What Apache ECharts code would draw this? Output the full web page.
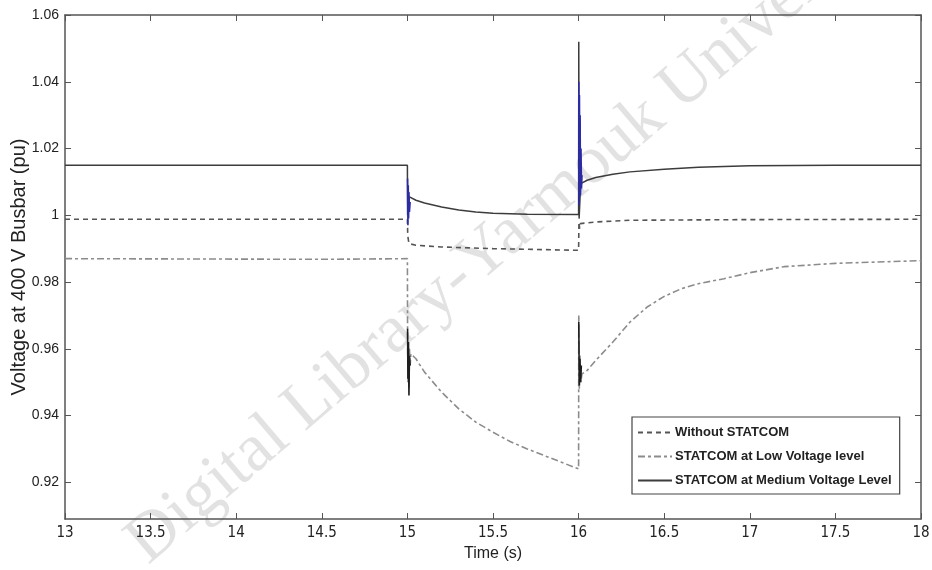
<!DOCTYPE html>
<html>
<head>
<meta charset="utf-8">
<script src="https://cdn.jsdelivr.net/npm/echarts@6/dist/echarts.min.js"></script>
<style>
  html, body { margin: 0; padding: 0; background: #fff; }
  #chart { width: 932px; height: 570px; }
</style>
</head>
<body>
<div id="chart"></div>
<script>
// tick labels
const xTicks = [13, 13.5, 14, 14.5, 15, 15.5, 16, 16.5, 17, 17.5, 18];
const yTicks = [0.92, 0.94, 0.96, 0.98, 1, 1.02, 1.04, 1.06];

const seriesNames = ["Without STATCOM", "STATCOM at Low Voltage level", "STATCOM at Medium Voltage Level"];

// [time (s), voltage (pu)]
const withoutStatcom = [
  [13, 0.9988], [15, 0.9988], [15.002, 0.994], [15.006, 0.9925], [15.01, 0.9915],
  [15.05, 0.991], [15.2, 0.9905], [15.5, 0.99], [15.8, 0.9897], [16, 0.9895],
  [16.002, 0.998], [16.006, 0.996], [16.01, 0.9975], [16.1, 0.998], [16.3, 0.9985],
  [17, 0.9987], [18, 0.9988]
];

const lowVoltage = [
  [13, 0.987], [14.5, 0.9868], [15, 0.987], [15.001, 0.965], [15.003, 0.95],
  [15.006, 0.962], [15.009, 0.948], [15.012, 0.96], [15.016, 0.955], [15.02, 0.9585],
  [15.05, 0.957], [15.1, 0.953], [15.2, 0.947], [15.3, 0.942], [15.4, 0.938],
  [15.5, 0.935], [15.6, 0.9322], [15.7, 0.93], [15.8, 0.928], [15.9, 0.926],
  [16, 0.924], [16.001, 0.97], [16.004, 0.948], [16.008, 0.958], [16.012, 0.95],
  [16.02, 0.9525], [16.05, 0.9535], [16.1, 0.9565], [16.2, 0.962], [16.3, 0.968],
  [16.4, 0.9725], [16.5, 0.9757], [16.6, 0.978], [16.7, 0.9795], [16.85, 0.981],
  [17, 0.9828], [17.2, 0.9846], [17.5, 0.9856], [18, 0.9864]
];

const mediumVoltage = [
  [13, 1.015], [15, 1.015], [15.001, 1.0], [15.004, 1.004], [15.012, 1.0055],
  [15.05, 1.0045], [15.1, 1.0037], [15.2, 1.0025], [15.3, 1.0016], [15.4, 1.001],
  [15.5, 1.0006], [15.7, 1.0003], [16, 1.0002], [16.001, 1.052], [16.003, 0.999],
  [16.012, 1.0095], [16.05, 1.0105], [16.1, 1.0113], [16.2, 1.0123], [16.3, 1.013],
  [16.5, 1.0138], [16.7, 1.0144], [17, 1.0148], [17.5, 1.015], [18, 1.015]
];

// switching transients (blue on the medium-voltage trace, black on the lower trace)
const mediumTransient = [
  [15.001, 1.011], [15.003, 0.997], [15.005, 1.009], [15.007, 0.999], [15.009, 1.007],
  [15.012, 1.001], [15.016, 1.004], [15.5, null],
  [16.001, 1.04], [16.003, 1.003], [16.005, 1.036], [16.007, 1.006], [16.009, 1.03],
  [16.011, 1.006], [16.014, 1.02], [16.017, 1.008], [16.02, 1.012]
];
const lowTransient = [
  [15.001, 0.966], [15.003, 0.951], [15.006, 0.962], [15.009, 0.946], [15.012, 0.958],
  [15.016, 0.955], [15.5, null],
  [16.001, 0.968], [16.004, 0.949], [16.008, 0.957], [16.012, 0.95], [16.016, 0.955]
];

const chart = echarts.init(document.getElementById("chart"));

const axisColor = "#555";
const labelFont = "'Liberation Sans Narrow', 'DejaVu Sans Condensed', 'Liberation Sans', sans-serif";

const option = {
  backgroundColor: "#fff",
  animation: false,
  grid: { left: 65, right: 11, top: 15, bottom: 51, containLabel: false, outerBoundsMode: "none" },
  legend: {
    data: seriesNames,
    orient: "vertical",
    left: 632,
    top: 417,
    width: 266,
    padding: [9, 8, 7, 5],
    itemGap: 11,
    itemWidth: 34,
    itemHeight: 14,
    itemStyle: { opacity: 0 },
    backgroundColor: "#fff",
    borderColor: "#444",
    borderWidth: 1.2,
    borderRadius: 0,
    textStyle: {
      fontFamily: "'Liberation Sans', Arial, sans-serif",
      fontSize: 13,
      fontWeight: "bold",
      color: "#222",
      padding: [0, 0, 0, -2]
    }
  },
  xAxis: [
    {
      type: "value",
      min: 13,
      max: 18,
      interval: 0.5,
      name: "Time (s)",
      nameLocation: "middle",
      nameGap: 27,
      nameTextStyle: { fontFamily: "'Liberation Sans', Arial, sans-serif", fontSize: 16, color: "#222" },
      axisLine: { lineStyle: { color: axisColor, width: 1.5 } },
      axisTick: { inside: true, length: 6, lineStyle: { color: axisColor } },
      axisLabel: { fontFamily: labelFont, fontSize: 15, color: "#222", margin: 7 },
      splitLine: { show: false }
    },
    {
      type: "value",
      position: "top",
      min: 13,
      max: 18,
      interval: 0.5,
      axisLine: { lineStyle: { color: axisColor, width: 1.5 } },
      axisTick: { inside: true, length: 6, lineStyle: { color: axisColor } },
      axisLabel: { show: false },
      splitLine: { show: false }
    }
  ],
  yAxis: [
    {
      type: "value",
      min: 0.909,
      max: 1.06,
      name: "Voltage at 400 V Busbar (pu)",
      nameLocation: "middle",
      nameGap: 36,
      nameMoveOverlap: false,
      nameTextStyle: { fontFamily: "'Liberation Sans', Arial, sans-serif", fontSize: 20, color: "#222" },
      axisLine: { show: true, lineStyle: { color: axisColor, width: 1.5 } },
      axisTick: { show: true, inside: true, length: 6, customValues: yTicks, lineStyle: { color: axisColor } },
      axisLabel: { fontFamily: "'Liberation Sans', Arial, sans-serif", fontSize: 14, color: "#222", margin: 6, customValues: yTicks },
      splitLine: { show: false }
    },
    {
      type: "value",
      position: "right",
      min: 0.909,
      max: 1.06,
      axisLine: { show: true, lineStyle: { color: axisColor, width: 1.5 } },
      axisTick: { show: true, inside: true, length: 6, customValues: yTicks, lineStyle: { color: axisColor } },
      axisLabel: { show: false, customValues: yTicks },
      splitLine: { show: false }
    }
  ],
  graphic: [
    {
      type: "text",
      x: 512,
      y: 232,
      rotation: 0.705,
      z: -1,
      silent: true,
      style: {
        text: "Digital Library-Yarmouk University",
        x: 0,
        y: 0,
        align: "center",
        verticalAlign: "middle",
        fontFamily: "'Liberation Serif', 'DejaVu Serif', serif",
        fontSize: 68,
        fill: "rgba(190,190,190,0.45)"
      }
    }
  ],
  series: [
    {
      name: seriesNames[0],
      type: "line",
      data: withoutStatcom,
      showSymbol: false,
      symbol: "none",
      lineStyle: { color: "#555", width: 1.6, type: [5, 4] },
      itemStyle: { color: "#555" },
      z: 3
    },
    {
      name: seriesNames[1],
      type: "line",
      data: lowVoltage,
      showSymbol: false,
      symbol: "none",
      lineStyle: { color: "#8c8c8c", width: 1.6, type: [7, 3, 3, 3] },
      itemStyle: { color: "#8c8c8c" },
      z: 3
    },
    {
      name: seriesNames[2],
      type: "line",
      data: mediumVoltage,
      showSymbol: false,
      symbol: "none",
      lineStyle: { color: "#3c3c3c", width: 1.5 },
      itemStyle: { color: "#3c3c3c" },
      z: 4
    },
    {
      name: "transient-mv",
      type: "line",
      data: mediumTransient,
      showSymbol: false,
      symbol: "none",
      connectNulls: false,
      lineStyle: { color: "#2b2ba6", width: 1.6 },
      z: 5
    },
    {
      name: "transient-lv",
      type: "line",
      data: lowTransient,
      showSymbol: false,
      symbol: "none",
      connectNulls: false,
      lineStyle: { color: "#1e1e1e", width: 1.6 },
      z: 5
    }
  ]
};

chart.setOption(option);
</script>
</body>
</html>
